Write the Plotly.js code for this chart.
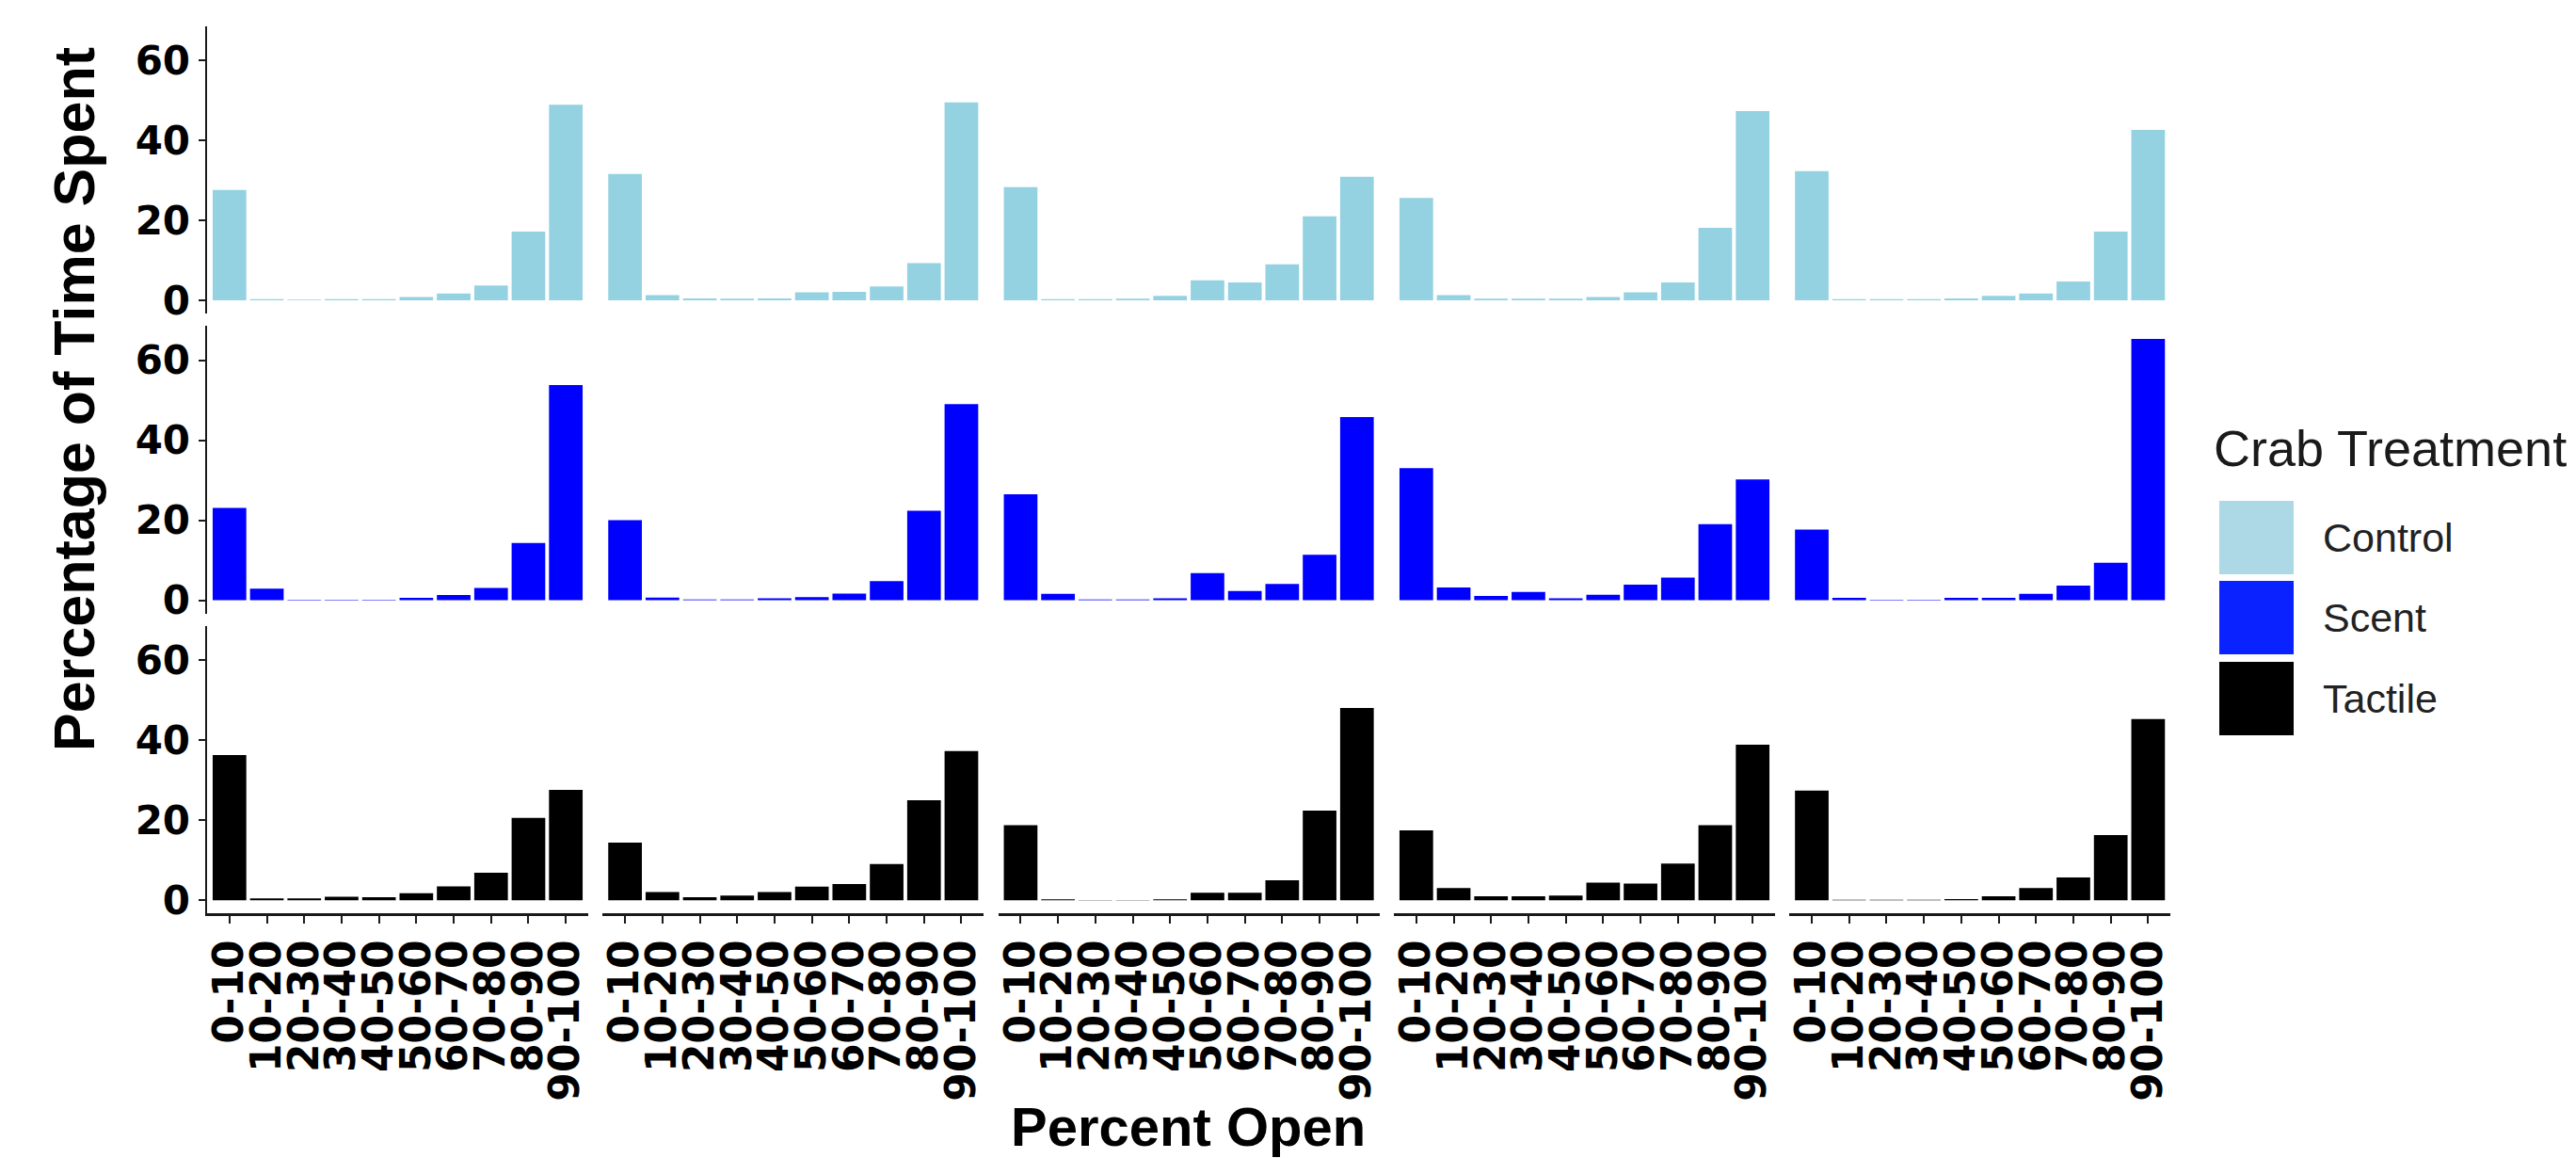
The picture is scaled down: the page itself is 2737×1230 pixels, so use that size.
<!DOCTYPE html>
<html>
<head>
<meta charset="utf-8">
<script src="https://cdn.plot.ly/plotly-3.0.1.min.js"></script>
<style>
html,body{margin:0;padding:0;background:#ffffff;}
#chart{width:2737px;height:1230px;}
</style>
</head>
<body>
<div id="chart"></div>
<script>
// ---- data ----
const categories = ['0-10','10-20','20-30','30-40','40-50','50-60','60-70','70-80','80-90','90-100'];
const treatments = ['Control','Scent','Tactile'];
const yTicks = [0, 20, 40, 60];

const control1 = [27.6, 0.3, 0.2, 0.3, 0.3, 0.8, 1.7, 3.7, 17.2, 48.9];
const control2 = [31.6, 1.3, 0.5, 0.4, 0.5, 2.0, 2.1, 3.5, 9.3, 49.5];
const control3 = [28.3, 0.3, 0.3, 0.4, 1.1, 5.0, 4.5, 9.0, 21.0, 30.9];
const control4 = [25.6, 1.3, 0.4, 0.4, 0.4, 0.8, 2.0, 4.5, 18.1, 47.3];
const control5 = [32.3, 0.3, 0.3, 0.3, 0.5, 1.1, 1.7, 4.7, 17.2, 42.6];

const scent1 = [23.1, 2.9, 0.15, 0.15, 0.15, 0.6, 1.3, 3.1, 14.3, 53.8];
const scent2 = [20.0, 0.7, 0.2, 0.2, 0.5, 0.8, 1.7, 4.8, 22.4, 49.0];
const scent3 = [26.5, 1.6, 0.2, 0.2, 0.5, 6.8, 2.3, 4.1, 11.4, 45.8];
const scent4 = [33.0, 3.2, 1.1, 2.1, 0.5, 1.4, 3.9, 5.7, 19.0, 30.2];
const scent5 = [17.7, 0.6, 0.15, 0.15, 0.6, 0.6, 1.6, 3.7, 9.4, 65.3];

const tactile1 = [36.3, 0.5, 0.5, 0.9, 0.8, 1.8, 3.5, 6.9, 20.6, 27.6];
const tactile2 = [14.4, 2.1, 0.8, 1.2, 2.1, 3.4, 4.1, 9.1, 25.0, 37.3];
const tactile3 = [18.8, 0.25, 0.1, 0.1, 0.25, 1.9, 1.9, 5.0, 22.4, 48.1];
const tactile4 = [17.5, 3.1, 1.0, 1.0, 1.2, 4.4, 4.2, 9.2, 18.8, 38.9];
const tactile5 = [27.4, 0.15, 0.15, 0.15, 0.3, 1.0, 3.1, 5.7, 16.3, 45.3];

// ---- styling ----
const W = 2737, H = 1230;
const barColors = ['#94d2e2', '#0000ff', '#000000'];
const keyColors = ['#add8e6', '#0a22ff', '#000000'];
const axisColor = '#1a1a1a';

const rows = [
  [control1, control2, control3, control4, control5],
  [scent1, scent2, scent3, scent4, scent5],
  [tactile1, tactile2, tactile3, tactile4, tactile5]
];

// panel geometry in pixels
const colLeft = [220, 640.3, 1060.6, 1481, 1901.2];
const colWidth = 405;
const rowTop = [27.6, 346.2, 664.9];
const rowHeight = 305.3;

let allMax = 0;
rows.forEach(r => r.forEach(a => a.forEach(v => { if (v > allMax) allMax = v; })));
const yRange = [-0.05 * allMax, 1.05 * allMax];

const traces = [];
rows.forEach((panelData, r) => {
  panelData.forEach((vals, c) => {
    traces.push({
      type: 'bar',
      name: treatments[r],
      x: categories,
      y: vals,
      xaxis: c === 0 ? 'x' : 'x' + (c + 1),
      yaxis: r === 0 ? 'y' : 'y' + (r + 1),
      marker: {color: barColors[r], line: {width: 0}},
      showlegend: false
    });
  });
});

const layout = {
  width: W, height: H,
  margin: {l: 0, r: 0, t: 0, b: 0, pad: 0},
  paper_bgcolor: '#ffffff',
  plot_bgcolor: '#ffffff',
  bargap: 0.1,
  showlegend: false,
  shapes: [],
  annotations: []
};

colLeft.forEach((x0, c) => {
  const key = c === 0 ? 'xaxis' : 'xaxis' + (c + 1);
  layout[key] = {
    domain: [x0 / W, (x0 + colWidth) / W],
    anchor: 'y3',
    type: 'category',
    categoryorder: 'array',
    categoryarray: categories,
    range: [-0.6, 9.6],
    tickmode: 'array', tickvals: categories, ticktext: categories,
    showline: true, linecolor: axisColor, linewidth: 2.5,
    ticks: 'outside', ticklen: 8, tickwidth: 2, tickcolor: axisColor,
    tickangle: -90,
    tickfont: {family: 'DejaVu Sans', size: 44, color: '#000000', weight: 'bold'},
    showgrid: false, zeroline: false, fixedrange: true
  };
});

rowTop.forEach((t, r) => {
  const key = r === 0 ? 'yaxis' : 'yaxis' + (r + 1);
  layout[key] = {
    domain: [(H - t - rowHeight) / H, (H - t) / H],
    anchor: 'x',
    range: yRange,
    tickmode: 'array', tickvals: yTicks, ticktext: yTicks.map(String),
    showline: true, linecolor: axisColor, linewidth: 2.5,
    ticks: 'outside', ticklen: 7, tickwidth: 2, tickcolor: axisColor,
    tickfont: {family: 'DejaVu Sans', size: 42, color: '#000000', weight: 'bold'},
    showgrid: false, zeroline: false, fixedrange: true
  };
});

// axis titles
layout.annotations.push({
  xref: 'paper', yref: 'paper',
  x: 79 / W, y: 1 - 424 / H,
  xanchor: 'center', yanchor: 'middle',
  text: 'Percentage of Time Spent', textangle: -90, showarrow: false,
  font: {family: 'Liberation Sans', size: 61, color: '#000000', weight: 'bold'}
});
layout.annotations.push({
  xref: 'paper', yref: 'paper',
  x: 1262 / W, y: (H - 1196) / H,
  xanchor: 'center', yanchor: 'middle',
  text: 'Percent Open', showarrow: false,
  font: {family: 'Liberation Sans', size: 58, color: '#000000', weight: 'bold'}
});

// legend
layout.annotations.push({
  xref: 'paper', yref: 'paper',
  x: 2350 / W, y: 1 - 476 / H,
  xanchor: 'left', yanchor: 'middle',
  text: 'Crab Treatment', showarrow: false,
  font: {family: 'Liberation Sans', size: 54, color: '#1a1a1a'}
});
const keyTop = [532, 617, 703];
treatments.forEach((name, i) => {
  layout.shapes.push({
    type: 'rect', xref: 'paper', yref: 'paper',
    x0: 2358 / W, x1: 2437 / W,
    y0: 1 - (keyTop[i] + 78) / H, y1: 1 - keyTop[i] / H,
    fillcolor: keyColors[i], line: {width: 0}
  });
  layout.annotations.push({
    xref: 'paper', yref: 'paper',
    x: 2466 / W, y: 1 - (keyTop[i] + 39) / H,
    xanchor: 'left', yanchor: 'middle',
    text: name, showarrow: false,
    font: {family: 'Liberation Sans', size: 43, color: '#222222'}
  });
});

Plotly.newPlot('chart', traces, layout, {staticPlot: true, displayModeBar: false});
</script>
</body>
</html>
